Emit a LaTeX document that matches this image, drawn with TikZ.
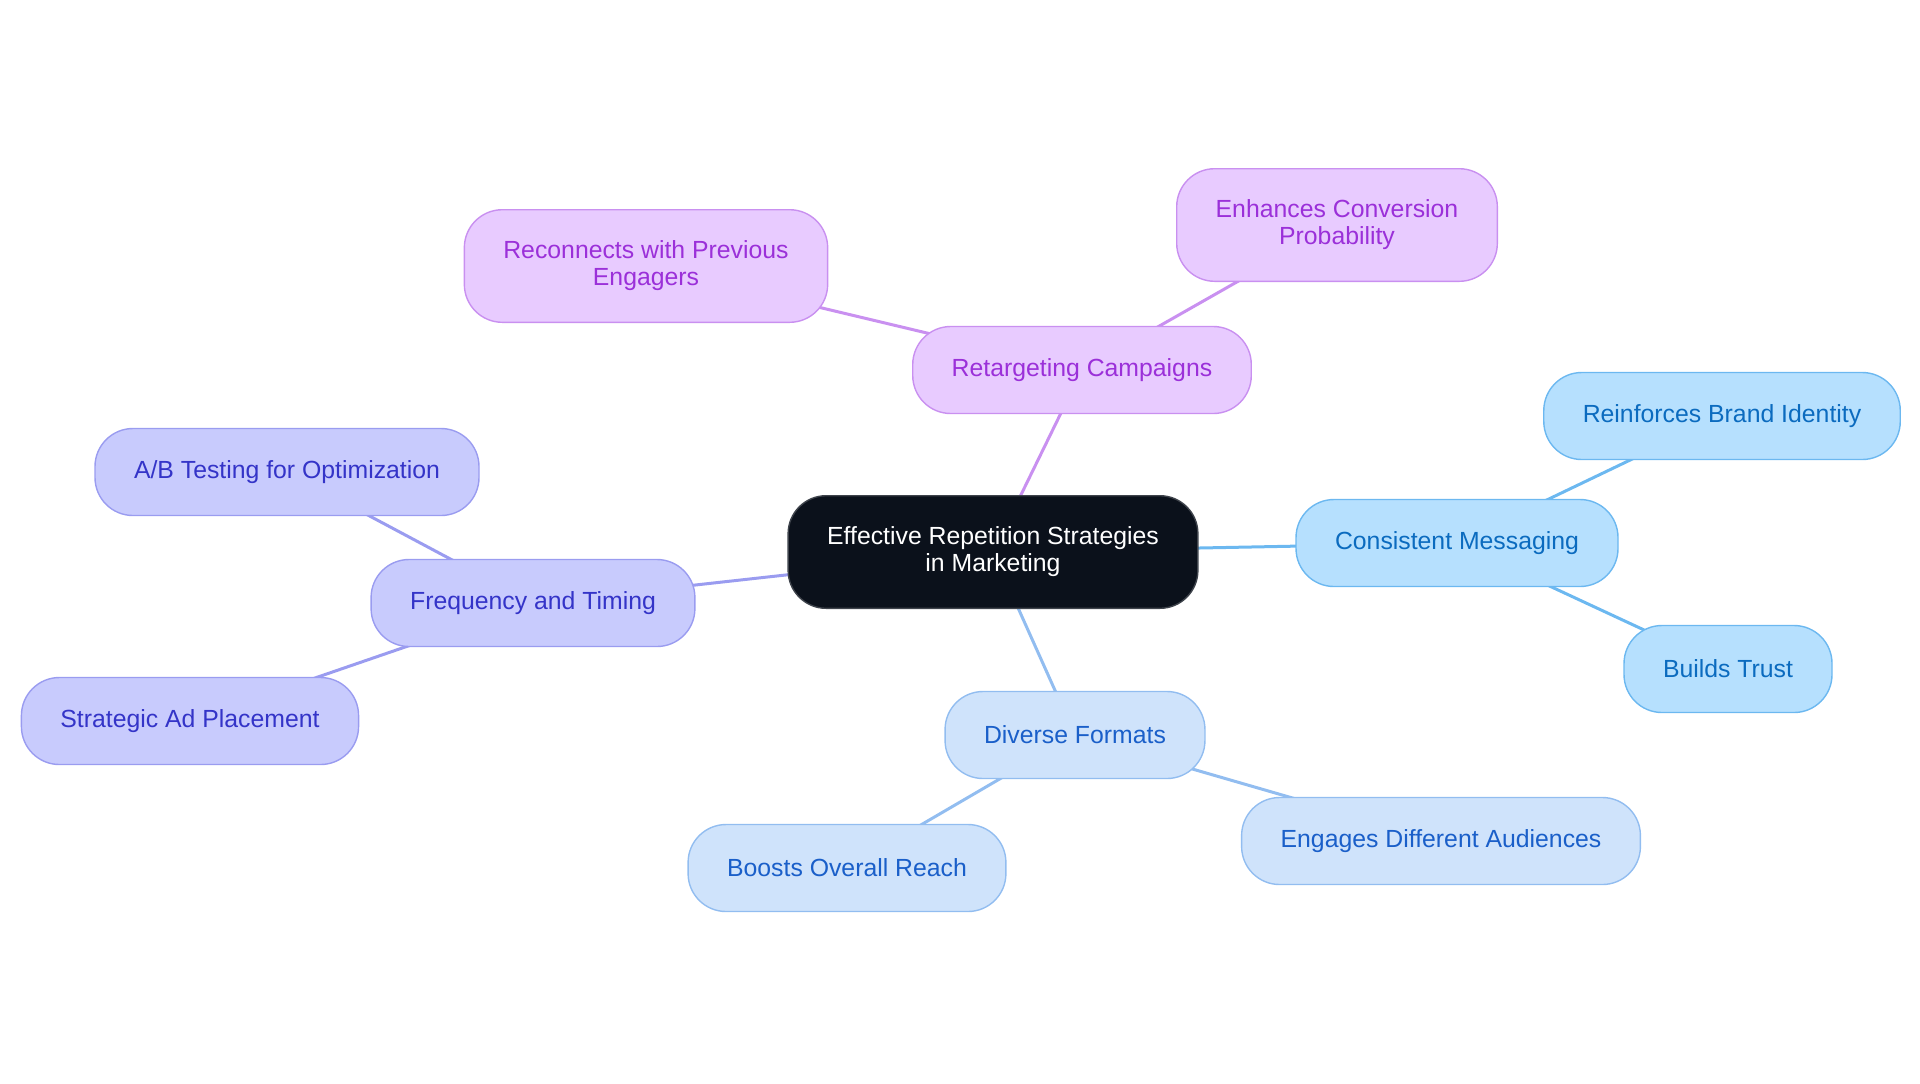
\documentclass[tikz,border=0pt]{standalone}
\usepackage{fontspec}
\setmainfont{Liberation Sans}
\usetikzlibrary{backgrounds}
\definecolor{rootfill}{HTML}{0B111B}
\definecolor{rootdraw}{HTML}{3E434B}
\definecolor{purfill}{HTML}{E8CBFF}
\definecolor{purdraw}{HTML}{C990F0}
\definecolor{purtext}{HTML}{9B30D9}
\definecolor{indfill}{HTML}{C8CBFD}
\definecolor{inddraw}{HTML}{9A9CF0}
\definecolor{indtext}{HTML}{3434C8}
\definecolor{skyfill}{HTML}{B6E0FE}
\definecolor{skydraw}{HTML}{6CB8F0}
\definecolor{skytext}{HTML}{0B6BBF}
\definecolor{palefill}{HTML}{CFE3FB}
\definecolor{paledraw}{HTML}{92BDF0}
\definecolor{paletext}{HTML}{1A5FC9}
\tikzset{
  box/.style={rounded corners=19pt, line width=0.7pt, inner xsep=19.5pt, inner ysep=14pt,
    minimum height=43.5pt, align=center, font=\fontsize{12.4}{13.5}\selectfont},
  twoline/.style={minimum height=56.3pt},
  rootbox/.style={box, fill=rootfill, draw=rootdraw, text=white},
  purbox/.style={box, fill=purfill, draw=purdraw, text=purtext},
  indbox/.style={box, fill=indfill, draw=inddraw, text=indtext},
  skybox/.style={box, fill=skyfill, draw=skydraw, text=skytext},
  palebox/.style={box, fill=palefill, draw=paledraw, text=paletext},
  link/.style={line width=1.5pt}
}
\begin{document}
\begin{tikzpicture}[x=0.5pt, y=-0.5pt]
      \useasboundingbox (0,0) rectangle (1920,1083);
      \node[rootbox, twoline] (root) at (993,552){Effective Repetition Strategies\\in Marketing};
      \node[purbox] (ret) at (1082,370){Retargeting Campaigns};
      \node[purbox, twoline] (ret1) at (646,266){Reconnects with Previous\\Engagers};
      \node[purbox, twoline] (ret2) at (1337,225){Enhances Conversion\\Probability};
      \node[skybox] (msg) at (1457,543){Consistent Messaging};
      \node[skybox] (msg1) at (1722,416){Reinforces Brand Identity};
      \node[skybox] (msg2) at (1728,669){Builds Trust};
      \node[palebox] (fmt) at (1075,735){Diverse Formats};
      \node[palebox] (fmt1) at (847,868){Boosts Overall Reach};
      \node[palebox] (fmt2) at (1441,841){Engages Different Audiences};
      \node[indbox] (frq) at (533,603){Frequency and Timing};
      \node[indbox] (frq1) at (287,472){A/B Testing for Optimization};
      \node[indbox] (frq2) at (190,721){Strategic Ad Placement};

      \begin{scope}[on background layer]
      \draw[link, purdraw](root.center) -- (ret.center);
      \draw[link, purdraw](ret.center) -- (ret1.center);
      \draw[link, purdraw](ret.center) -- (ret2.center);
      \draw[link, skydraw](root.center) -- (msg.center);
      \draw[link, skydraw](msg.center) -- (msg1.center);
      \draw[link, skydraw](msg.center) -- (msg2.center);
      \draw[link, paledraw](root.center) -- (fmt.center);
      \draw[link, paledraw](fmt.center) -- (fmt1.center);
      \draw[link, paledraw](fmt.center) -- (fmt2.center);
      \draw[link, inddraw](root.center) -- (frq.center);
      \draw[link, inddraw](frq.center) -- (frq1.center);
      \draw[link, inddraw](frq.center) -- (frq2.center);
      \end{scope}

    \end{tikzpicture}
\end{document}
